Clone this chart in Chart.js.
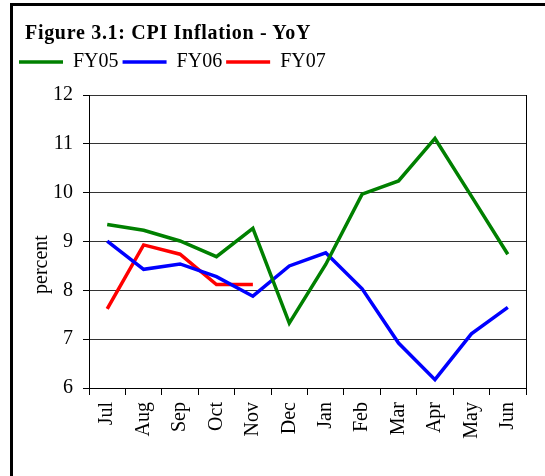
<!DOCTYPE html>
<html>
<head>
<meta charset="utf-8">
<script src="https://cdn.jsdelivr.net/npm/chart.js@4.4.1/dist/chart.umd.min.js"></script>
<style>
    html, body { margin: 0; padding: 0; background: #fff; }
    #wrap { position: relative; width: 545px; height: 476px; overflow: hidden; }
    #cpiChart { position: absolute; left: 0; top: 0; }
    #frame {
        position: absolute; left: 10px; top: 3px; width: 600px; height: 600px;
        border-left: 3px solid #000; border-top: 3px solid #000; pointer-events: none;
    }
    #title {
        position: absolute; left: 25px; top: 22px; white-space: nowrap;
        font: bold 20px "Liberation Serif", serif; line-height: 20px; letter-spacing: 0.7px;
    }
</style>
</head>
<body>
<div id="wrap">
    <canvas id="cpiChart" width="545" height="476"></canvas>
    <div id="frame"></div>
    <div id="title">Figure 3.1: CPI Inflation - YoY</div>
</div>
<script>
/* ---------- data ---------- */
const months = ["Jul", "Aug", "Sep", "Oct", "Nov", "Dec", "Jan", "Feb", "Mar", "Apr", "May", "Jun"];
const fy05 = [9.35, 9.23, 9.01, 8.69, 9.27, 7.33, 8.53, 9.97, 10.24, 11.11, 9.93, 8.74];
const fy06 = [9.01, 8.43, 8.54, 8.28, 7.88, 8.50, 8.77, 8.03, 6.92, 6.17, 7.11, 7.65];
const fy07 = [7.62, 8.93, 8.74, 8.12, 8.12, null, null, null, null, null, null, null];
const yTicks = [6, 7, 8, 9, 10, 11, 12];
const yLabel = "percent";

/* ---------- style ---------- */
const LEGEND_EXTRA = 13;
const serif = '"Liberation Serif", serif';
Chart.defaults.font.family = serif;
Chart.defaults.color = "#000";

// extra room under the legend
const legendGap = {
    id: "legendGap",
    beforeInit(chart) {
        if (!chart.legend) return;
        const fit = chart.legend.fit;
        chart.legend.fit = function () {
            fit.call(this);
            this.height += LEGEND_EXTRA;
        };
    }
};

// "percent", drawn a little below the middle like the original
const yTitle = {
    id: "yTitle",
    afterDraw(chart) {
        const { ctx, chartArea } = chart;
        ctx.save();
        ctx.translate(chartArea.left - 47, (chartArea.top + chartArea.bottom) / 2 + 23);
        ctx.rotate(-Math.PI / 2);
        ctx.font = "20px " + serif;
        ctx.fillStyle = "#000";
        ctx.textAlign = "center";
        ctx.textBaseline = "middle";
        ctx.fillText(yLabel, 0, 0);
        ctx.restore();
    }
};

function series(label, data, color) {
    return {
        label, data,
        borderColor: color,
        backgroundColor: color,
        borderWidth: 3.5,
        pointRadius: 0,
        tension: 0,
        spanGaps: false
    };
}

new Chart(document.getElementById("cpiChart"), {
    type: "line",
    data: {
        labels: months,
        datasets: [
            series("FY05", fy05, "#008000"),
            series("FY06", fy06, "#0000ff"),
            series("FY07", fy07, "#ff0000")
        ]
    },
    options: {
        responsive: false,
        animation: false,
        layout: { padding: { left: 15, right: 19, top: 48, bottom: 20 } },
        plugins: {
            title: { display: false },
            tooltip: { enabled: false },
            legend: {
                position: "top",
                align: "start",
                labels: {
                    usePointStyle: true,
                    pointStyle: "line",
                    pointStyleWidth: 44,
                    boxHeight: 3,
                    padding: 4,
                    color: "#000",
                    font: { size: 20 }
                }
            }
        },
        scales: {
            x: {
                offset: true,
                grid: {
                    offset: true,
                    color: c => c.type === "tick" ? "rgba(0,0,0,0)" : "#000",
                    tickColor: "#000",
                    tickLength: 7
                },
                border: { color: "#000" },
                ticks: { autoSkip: false, maxRotation: 90, minRotation: 90, padding: 7, font: { size: 20 } },
                afterFit: s => { s.height = 68; }
            },
            y: {
                min: yTicks[0],
                max: yTicks[yTicks.length - 1],
                afterBuildTicks: s => { s.ticks = yTicks.map(v => ({ value: v })); },
                ticks: { padding: 10, font: { size: 20 } },
                grid: { color: "#333", tickColor: "#000", tickLength: 6 },
                border: { color: "#000" },
                afterFit: s => { s.width = 74; }
            }
        }
    },
    plugins: [legendGap, yTitle]
});
</script>
</body>
</html>
